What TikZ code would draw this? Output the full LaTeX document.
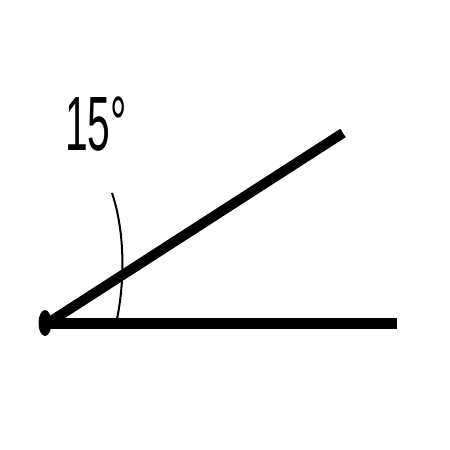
\documentclass[tikz,border=0pt]{standalone}
\usepackage{fontspec}
\setmainfont{Liberation Sans}
\usetikzlibrary{positioning}

\begin{document}
\begin{tikzpicture}[
        x = 1pt, y = -1pt, % pixel coordinates, y downwards
        line cap = butt
        ]

        \tikzset{leg/.style={
        draw = black,
        line width = 11pt
        }}
        \tikzset{arcline/.style={
        draw = black,
        line width = 2pt
        }}

        \useasboundingbox (0,0) rectangle (450,450);

        \coordinate (o) at (48,323);
        \coordinate (h) at (397,323);
        \coordinate (u) at (343,133);
        \coordinate (a1) at (112,193);
        \coordinate (a2) at (117,319);

        \draw[leg] (o) -- (h);
        \draw[leg, line width = 10pt] (o) -- (u);
        \fill (45,323) ellipse (6.5 and 13);

        \draw[arcline] (a1) .. controls (126,235) and (124,285) .. (a2);

        \node[xscale = 0.53] (label) at (96,124) {\fontsize{77}{77}\selectfont 15°};

      \end{tikzpicture}
\end{document}
